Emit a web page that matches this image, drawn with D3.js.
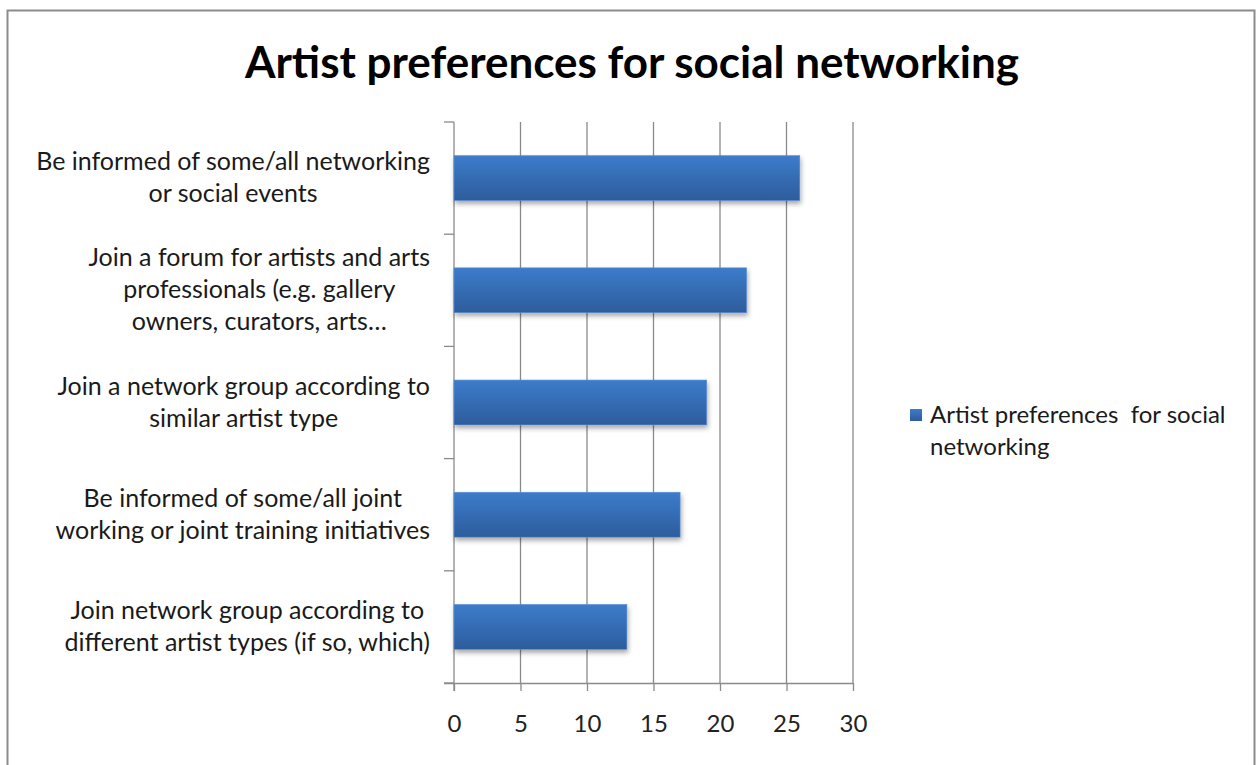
<!DOCTYPE html>
<html>
<head>
<meta charset="utf-8">
<script src="https://cdn.jsdelivr.net/npm/d3@7"></script>
<style>
  html, body { margin: 0; padding: 0; background: #fff; }
  svg { display: block; font-family: Lato, "Open Sans", sans-serif; }
</style>
</head>
<body>
<svg id="chart" width="1258" height="765"></svg>
<script>
// Survey responses: artist preferences for social networking
const categories = [
  ["Be informed of some/all networking", "or social events"],
  ["Join a forum for artists and arts", "professionals (e.g. gallery", "owners, curators, arts\u2026"],
  ["Join a network group according to", "similar artist type"],
  ["Be informed of some/all joint", "working or joint training initiatives"],
  ["Join network group according to", "different artist types (if so, which)"]
];
const values = [26, 22, 19, 17, 13];
const xTicks = [0, 5, 10, 15, 20, 25, 30];
const seriesName = ["Artist preferences  for social", "networking"];
const chartTitle = "Artist preferences for social networking";

const svg = d3.select("#chart");

// outer chart frame
svg.append("rect")
  .attr("x", 7.5).attr("y", 10.5)
  .attr("width", 1247).attr("height", 800)
  .attr("fill", "#fff").attr("stroke", "#8c8c8c").attr("stroke-width", 2);

const defs = svg.append("defs");
const grad = defs.append("linearGradient")
  .attr("id", "barGrad").attr("x1", 0).attr("y1", 0).attr("x2", 0).attr("y2", 1);
grad.append("stop").attr("offset", "0%").attr("stop-color", "#3c7ccb");
grad.append("stop").attr("offset", "100%").attr("stop-color", "#2d5c9c");

const shadow = defs.append("filter").attr("id", "shadow")
  .attr("x", "-5%").attr("y", "-20%").attr("width", "115%").attr("height", "160%");
shadow.append("feDropShadow")
  .attr("dx", 1).attr("dy", 3).attr("stdDeviation", 2.5)
  .attr("flood-color", "#000").attr("flood-opacity", 0.35);

const plotLeft = 454, plotRight = 853, plotTop = 122, plotBottom = 683;

const x = d3.scaleLinear().domain([0, 30]).range([plotLeft, plotRight]);
const y = d3.scaleBand().domain(d3.range(categories.length)).range([plotTop, plotBottom])
  .paddingInner(0.6).paddingOuter(0.3);

// vertical gridlines
svg.append("g").selectAll("line").data(xTicks.filter(d => d > 0)).join("line")
  .attr("x1", d => x(d)).attr("x2", d => x(d))
  .attr("y1", plotTop).attr("y2", plotBottom)
  .attr("stroke", "#8a8a8a").attr("stroke-width", 1.3);

// bottom axis
const xAxis = svg.append("g").attr("transform", `translate(0,${plotBottom})`)
  .call(d3.axisBottom(x).tickValues(xTicks).tickSize(8).tickPadding(24));
xAxis.select(".domain").attr("stroke", "#8a8a8a").attr("stroke-width", 1.3)
  .attr("d", `M${plotLeft - 10},0.5H${plotRight}`);
xAxis.selectAll(".tick line").attr("stroke", "#8a8a8a").attr("stroke-width", 1.3);
xAxis.selectAll(".tick text")
  .attr("font-family", "Lato, sans-serif").attr("font-size", 24).attr("fill", "#222");

// left category axis with tick marks between categories
const yEdges = d3.range(categories.length + 1)
  .map(i => plotTop + i * (plotBottom - plotTop) / categories.length);
const yAxisG = svg.append("g");
yAxisG.append("line")
  .attr("x1", plotLeft).attr("x2", plotLeft).attr("y1", plotTop).attr("y2", plotBottom + 8)
  .attr("stroke", "#8a8a8a").attr("stroke-width", 1.3);
yAxisG.selectAll("line.tk").data(yEdges).join("line").attr("class", "tk")
  .attr("x1", plotLeft - 10).attr("x2", plotLeft).attr("y1", d => d).attr("y2", d => d)
  .attr("stroke", "#8a8a8a").attr("stroke-width", 1.3);

// bars
svg.append("g").selectAll("rect").data(values).join("rect")
  .attr("x", x(0))
  .attr("y", (d, i) => y(i))
  .attr("width", d => x(d) - x(0))
  .attr("height", y.bandwidth())
  .attr("fill", "url(#barGrad)")
  .attr("stroke", "#5b8fd6").attr("stroke-width", 0.6)
  .attr("filter", "url(#shadow)");

// category labels: each block centred, its widest line ending at labelRight
const lineH = 32, labelRight = 430;
svg.append("g").selectAll("text").data(categories).join("text")
  .attr("text-anchor", "middle")
  .attr("font-size", 25).attr("fill", "#1a1a1a")
  .each(function (lines, i) {
    const t = d3.select(this);
    const cy = y(i) + y.bandwidth() / 2;
    const startY = cy - (lines.length - 1) * lineH / 2 + 8;
    const spans = t.selectAll("tspan").data(lines).join("tspan")
      .attr("y", (l, j) => startY + j * lineH)
      .text(l => l);
    const maxW = d3.max(spans.nodes(), n => n.getComputedTextLength());
    spans.attr("x", labelRight - maxW / 2);
  });

// title
svg.append("text")
  .attr("x", 632).attr("y", 78)
  .attr("text-anchor", "middle")
  .attr("font-size", 44).attr("font-weight", "bold").attr("fill", "#000")
  .text(chartTitle);

// legend
const legend = svg.append("g");
legend.append("rect")
  .attr("x", 910).attr("y", 409).attr("width", 12).attr("height", 12)
  .attr("fill", "url(#barGrad)");
legend.append("text")
  .attr("font-size", 24).attr("fill", "#1a1a1a")
  .style("white-space", "pre")
  .selectAll("tspan").data(seriesName).join("tspan")
  .attr("x", 930).attr("y", (d, i) => 423 + i * 32)
  .text(d => d);
</script>
</body>
</html>
